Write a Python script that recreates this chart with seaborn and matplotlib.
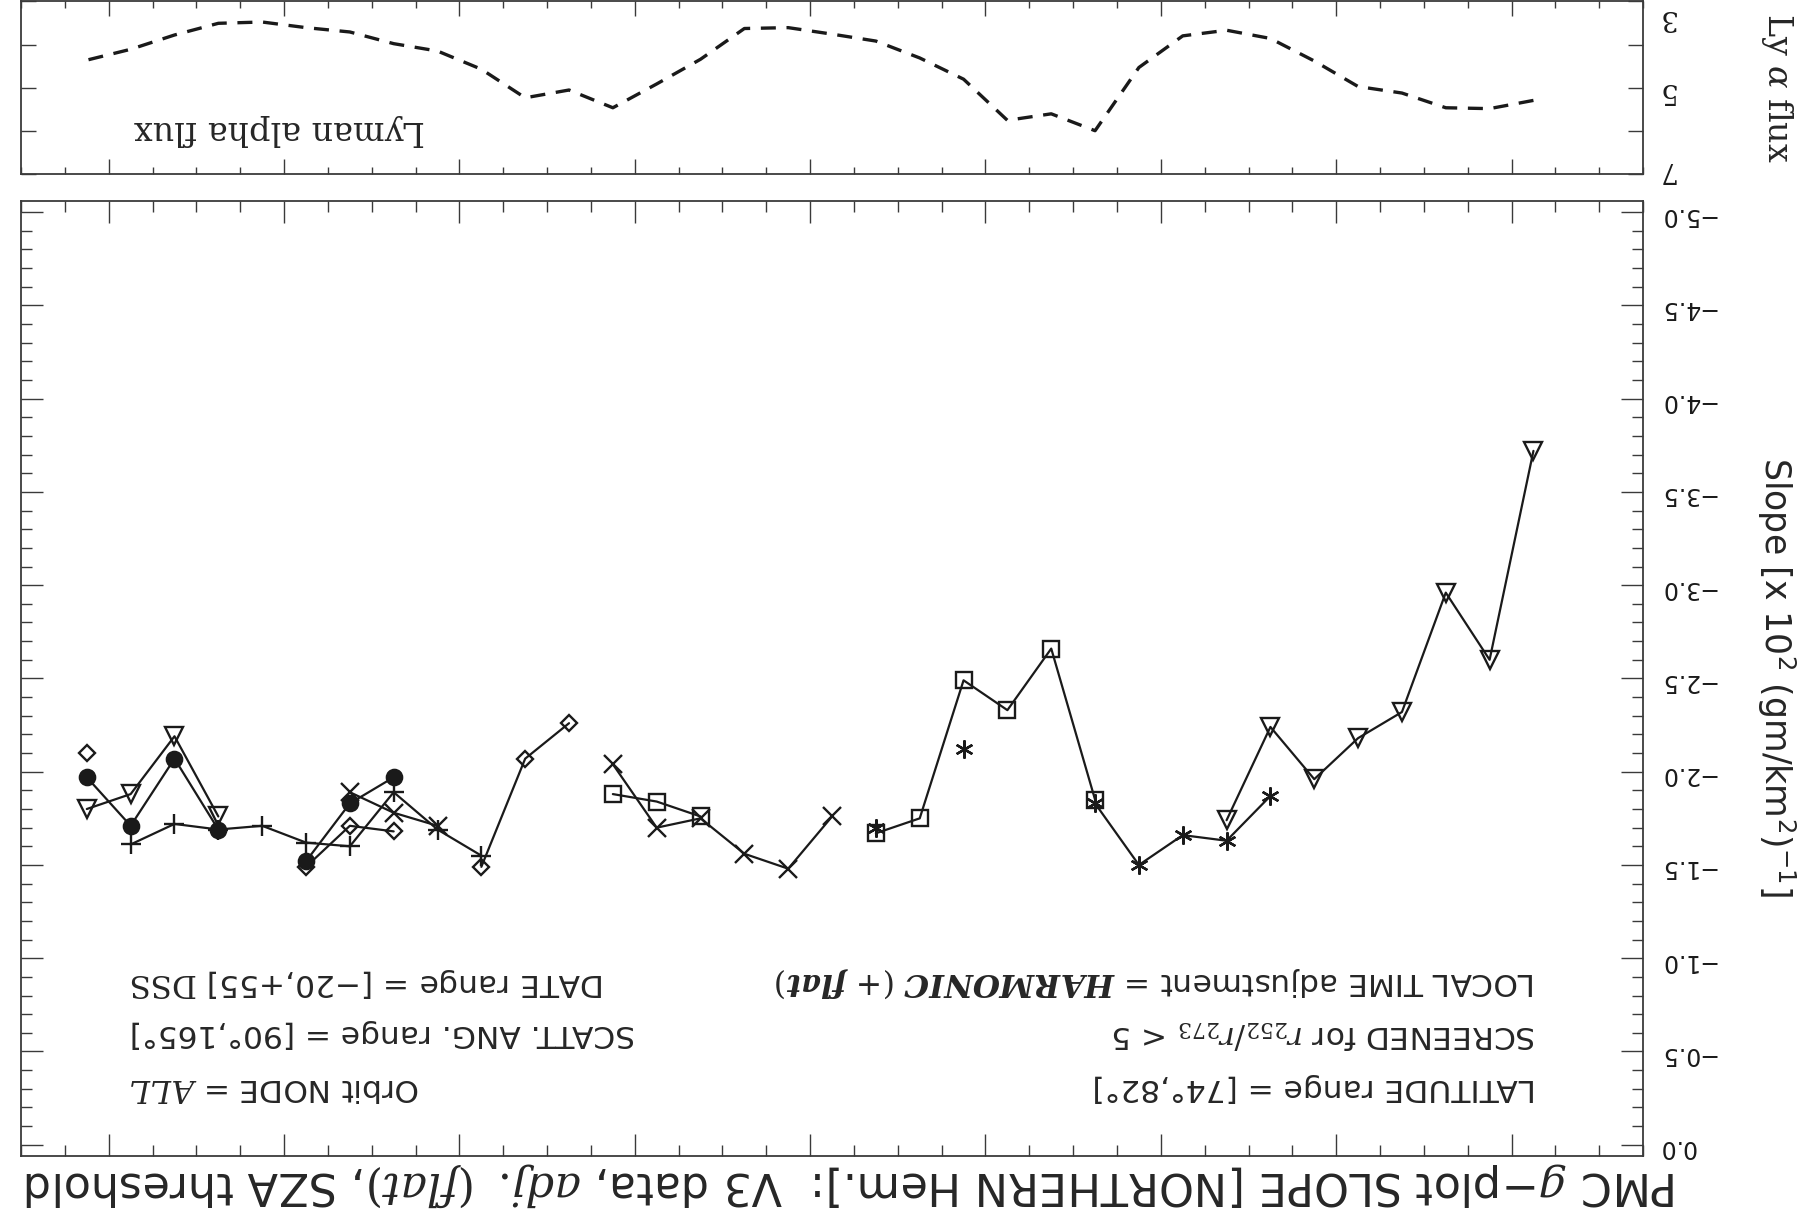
import numpy as np
import pandas as pd
import matplotlib
matplotlib.use("Agg")
import matplotlib.pyplot as plt
import seaborn as sns
from matplotlib.ticker import MultipleLocator, FixedLocator, FuncFormatter
from matplotlib.transforms import ScaledTranslation

# ---------------- data ----------------
flux_years = list(range(1979, 2013))
lyman_flux = [5.29, 5.48, 5.46, 5.12, 4.97, 4.38, 3.86, 3.67, 3.80, 4.53,
              5.99, 5.60, 5.75, 4.80, 4.31, 3.92, 3.76, 3.61, 3.63, 4.34,
              4.91, 5.46, 5.05, 5.23, 4.57, 4.15, 3.98, 3.71, 3.61, 3.48,
              3.51, 3.78, 4.11, 4.36]

tri_years = [1979, 1980, 1981, 1982, 1983, 1984, 1985, 1986, 2009, 2010, 2011, 2012]
tri_slope = [-3.72, -2.60, -2.96, -2.32, -2.18, -1.96, -2.24, -1.74, -1.76, -2.19, -1.88, -1.80]

circ_years = [2005, 2006, 2007, 2009, 2010, 2011, 2012]
circ_slope = [-1.97, -1.83, -1.52, -1.69, -2.07, -1.71, -1.97]

plus_years = [2003, 2004, 2005, 2006, 2007, 2008, 2009, 2010, 2011]
plus_slope = [-1.55, -1.69, -1.89, -1.60, -1.62, -1.71, -1.69, -1.72, -1.61]

diam_years = [2001, 2002, 2003, 2005, 2006, 2007, 2012]
diam_slope = [-2.26, -2.07, -1.49, -1.68, -1.71, -1.49, -2.10]

cross_years = [1995, 1996, 1997, 1998, 1999, 2000, 2004, 2005, 2006]
cross_slope = [-1.76, -1.48, -1.56, -1.75, -1.70, -2.04, -1.71, -1.78, -1.89]

sq_years = [1989, 1990, 1991, 1992, 1993, 1994, 1998, 1999, 2000]
sq_slope = [-1.85, -2.66, -2.33, -2.49, -1.75, -1.67, -1.76, -1.84, -1.88]

ast_years = [1985, 1986, 1987, 1988, 1989, 1992, 1994]
ast_slope = [-1.87, -1.63, -1.66, -1.50, -1.83, -2.12, -1.70]

flux_ticks = [3, 5, 7]
flux_minor = [4, 6]

title_text = (r"PMC $g$−plot SLOPE [NORTHERN Hem.]:  V3 data, "
              r"$\mathit{adj.}$ $(\mathit{flat})$, SZA threshold")
notes_right = [r"LOCAL TIME adjustment = $\mathbfit{HARMONIC}$ $(+\ \mathbfit{flat})$",
               r"SCREENED for $r_{252}/r_{273}$ < 5",
               r"LATITUDE range = [74°,82°]"]
notes_left = [r"DATE range = [−20,+55] $\mathrm{DSS}$",
              r"SCATT. ANG. range = [90°,165°]",
              r"Orbit NODE = $\mathit{ALL}$"]

# ---------------- style ----------------
sns.set_theme(style="white")
plt.rcParams["font.family"] = ["DejaVu Sans"]
plt.rcParams["mathtext.fontset"] = "dejavuserif"
plt.rcParams["axes.unicode_minus"] = True

SPINE = "#3a3a3a"
fig = plt.figure(figsize=(18, 12.2), dpi=100)
ax = fig.add_axes([0.0117, 0.0525, 0.9011, 0.7828])
ax2 = fig.add_axes([0.0117, 0.857, 0.9011, 0.142])


def frame(years, vals):
    yrs = np.asarray(years)
    seg = np.concatenate([[0], np.cumsum(np.diff(yrs) != 1)])
    return pd.DataFrame({"year": yrs + 0.5, "slope": vals, "seg": seg})


series = [
    (tri_years, tri_slope, dict(marker="v", markersize=13, markerfacecolor="none")),
    (circ_years, circ_slope, dict(marker="o", markersize=11, markerfacecolor="k")),
    (plus_years, plus_slope, dict(marker="+", markersize=15, markerfacecolor="none")),
    (diam_years, diam_slope, dict(marker="D", markersize=8, markerfacecolor="none")),
    (cross_years, cross_slope, dict(marker="x", markersize=13, markerfacecolor="none")),
    (sq_years, sq_slope, dict(marker="s", markersize=12, markerfacecolor="none")),
    (ast_years, ast_slope, dict(marker=(6, 2, 0), markersize=13, markerfacecolor="none")),
]

for yrs, vals, mk in series:
    df = frame(yrs, vals)
    sns.lineplot(data=df, x="year", y="slope", units="seg", estimator=None,
                 ax=ax, color="k", linewidth=1.6, markeredgecolor="k",
                 markeredgewidth=1.7, legend=False, **mk)

fdf = pd.DataFrame({"year": np.asarray(flux_years) + 0.5, "flux": lyman_flux})
sns.lineplot(data=fdf, x="year", y="flux", ax=ax2, color="k", linewidth=2.4,
             linestyle=(0, (4.5, 3.2)), legend=False)

# ---------------- axes: main ----------------
ax.set_xlim(2014, 1977)
ax.set_ylim(0.06, -5.06)
ax.set_xlabel("")
ax.set_ylabel("")
ax.xaxis.set_major_locator(MultipleLocator(4))
ax.xaxis.set_minor_locator(MultipleLocator(1))
ax.yaxis.set_major_locator(MultipleLocator(0.5))
ax.yaxis.set_minor_locator(MultipleLocator(0.1))


def fmt(v, p):
    if abs(v) < 1e-9:
        return "0.0"
    return ("%.1f" % v).replace("-", "\u2212")


ax.yaxis.set_major_formatter(FuncFormatter(fmt))
ax.tick_params(axis="x", which="both", direction="in", top=True, bottom=True,
               labelbottom=False, labeltop=False, color=SPINE)
ax.tick_params(axis="y", which="both", direction="in", left=True, right=True,
               labelleft=False, labelright=True, color=SPINE)
ax.tick_params(which="major", length=16, width=1.0)
ax.tick_params(which="minor", length=8, width=1.0)
ax.tick_params(axis="y", labelrotation=180, labelsize=17, pad=11, labelcolor="k")

# ---------------- axes: Lyman alpha ----------------
ax2.set_xlim(2014, 1977)
ax2.set_ylim(7, 3)
ax2.set_xlabel("")
ax2.set_ylabel("")
ax2.xaxis.set_major_locator(MultipleLocator(4))
ax2.xaxis.set_minor_locator(MultipleLocator(1))
ax2.yaxis.set_major_locator(FixedLocator(flux_ticks))
ax2.yaxis.set_minor_locator(FixedLocator(flux_minor))
ax2.yaxis.set_major_formatter(FuncFormatter(lambda v, p: "%d" % v))
ax2.tick_params(axis="x", which="both", direction="in", top=True, bottom=True,
                labelbottom=False, labeltop=False, color=SPINE)
ax2.tick_params(axis="y", which="both", direction="in", left=True, right=True,
                labelleft=False, labelright=True, color=SPINE)
ax2.tick_params(axis="x", which="major", length=11, width=1.0)
ax2.tick_params(axis="x", which="minor", length=5, width=1.0)
ax2.tick_params(axis="y", which="both", length=11, width=1.0)
ax2.tick_params(axis="y", labelrotation=180, labelsize=20, pad=10, labelcolor="k")

# nudge the end labels of the flux axis inward so they stay inside the figure
fig.canvas.draw()
for tick in ax2.yaxis.get_major_ticks():
    tick.label2.set_family("DejaVu Serif")
    val = tick.get_loc()
    if val == 3:
        dy = -13 / 100.0
    elif val == 7:
        dy = 8 / 100.0
    else:
        continue
    lab = tick.label2
    lab.set_transform(lab.get_transform() + ScaledTranslation(0, dy, fig.dpi_scale_trans))

for a in (ax, ax2):
    for s in a.spines.values():
        s.set_visible(True)
        s.set_color(SPINE)
        s.set_linewidth(1.3)

# ---------------- text ----------------
ax2.text(0.249, 0.255, "Lyman alpha flux", transform=ax2.transAxes,
         rotation=180, ha="right", va="center", fontsize=24, family="DejaVu Serif")

for txt, yy in zip(notes_right, [0.182, 0.128, 0.0712]):
    ax.text(0.934, yy, txt, transform=ax.transAxes, rotation=180,
            ha="right", va="center", fontsize=22.5)
for txt, yy in zip(notes_left, [0.182, 0.128, 0.0712]):
    ax.text(0.067, yy, txt, transform=ax.transAxes, rotation=180,
            ha="left", va="center", fontsize=22.5)

fig.text(0.932, 0.0287, title_text, rotation=180, ha="right", va="center", fontsize=32)
fig.text(0.987, 0.445, r"Slope [x 10$^{\mathsf{2}}$ (gm/km$^{\mathsf{2}}$)$^{\mathsf{-1}}$]",
         rotation=270, ha="center", va="center", fontsize=25)
fig.text(0.987, 0.928, r"Ly $\alpha$ flux", rotation=270, ha="center", va="center",
         fontsize=24, family="DejaVu Serif")

fig.savefig("out.png", dpi=100)
